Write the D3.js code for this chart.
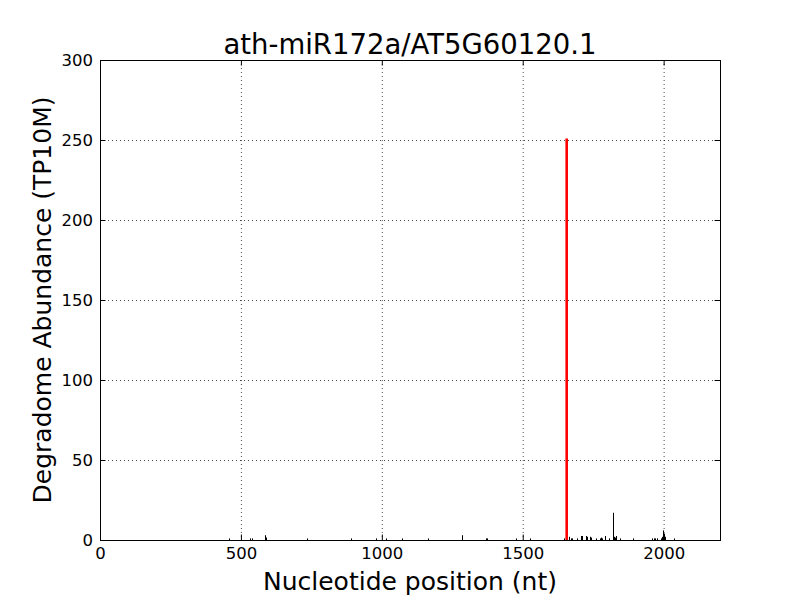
<!DOCTYPE html>
<html>
<head>
<meta charset="utf-8">
<script src="https://cdn.jsdelivr.net/npm/d3@7"></script>
<style>
  body { margin: 0; background: #fff; }
  svg { font-family: "DejaVu Sans", sans-serif; }
</style>
</head>
<body>
<div id="chart"></div>
<script>
// degradome reads along the transcript (position in nt, abundance in TP10M)
var readPos = [459, 532, 540, 584, 586, 588, 735, 891, 979, 1014, 1073, 1165, 1283, 1369, 1374,
  1475, 1526, 1648, 1664, 1672, 1676, 1692, 1706, 1709, 1724, 1727, 1737, 1741, 1760, 1773,
  1776, 1780, 1792, 1807, 1820, 1824, 1828, 1831, 1845, 1892, 1958, 1966, 1970, 1975, 1990,
  1994, 1997, 1999, 2001, 2004, 2038];
var readVal = [1, 1, 1, 1.5, 3, 1.5, 1, 1, 1, 1, 1, 1, 3, 1, 1,
  1, 1, 1, 2, 1, 1, 1, 2.5, 2.5, 2.5, 2, 2, 1.5, 1, 1,
  1.5, 1, 2.5, 1, 17, 2, 1.5, 2.5, 1, 1, 1, 1, 1, 1, 1,
  2, 3.5, 6, 4, 2, 1];
// predicted cleavage site
var sitePos = [1656];
var siteVal = [251];

var xTicks = [0, 500, 1000, 1500, 2000];
var yTicks = [0, 50, 100, 150, 200, 250, 300];

var chartTitle = "ath-miR172a/AT5G60120.1";
var xTitle = "Nucleotide position (nt)";
var yTitle = "Degradome Abundance (TP10M)";

//==================
var svgWidth = 800, svgHeight = 600;
var margin = {left: 100, right: 80, top: 60, bottom: 60};
var width = svgWidth - margin.left - margin.right;
var height = svgHeight - margin.top - margin.bottom;

var svg = d3.select("#chart")
  .append("svg")
  .attr("width", svgWidth)
  .attr("height", svgHeight);

svg.append("rect").attr("width", svgWidth).attr("height", svgHeight).attr("fill", "#fff");

var g = svg.append("g")
  .attr("transform", "translate(" + margin.left + "," + margin.top + ")");

var xScale = d3.scaleLinear().domain([0, 2200]).range([0, width]);
var yScale = d3.scaleLinear().domain([0, 300]).range([height, 0]);

//==================
// dotted grid
g.append("g")
  .attr("class", "grid")
  .call(d3.axisBottom(xScale).tickValues(xTicks).tickSize(height).tickFormat(""))
  .call(s => s.select(".domain").remove());
g.append("g")
  .attr("class", "grid")
  .call(d3.axisLeft(yScale).tickValues(yTicks).tickSize(-width).tickFormat(""))
  .call(s => s.select(".domain").remove());
g.selectAll(".grid line")
  .attr("stroke", "#000")
  .attr("stroke-width", 0.7)
  .attr("stroke-dasharray", "1,3");

//==================
// reads as thin vertical lines
var pts = readPos.map((p, i) => ({pos: p, val: readVal[i]}));
g.selectAll(".read")
  .data(pts)
  .enter()
  .append("line")
  .attr("class", "read")
  .attr("x1", d => Math.round(xScale(d.pos)) + 0.5)
  .attr("x2", d => Math.round(xScale(d.pos)) + 0.5)
  .attr("y1", yScale(0))
  .attr("y2", d => yScale(d.val))
  .attr("stroke", "#000")
  .attr("stroke-width", 1);

var site = sitePos.map((p, i) => ({pos: p, val: siteVal[i]}));
g.selectAll(".site")
  .data(site)
  .enter()
  .append("line")
  .attr("class", "site")
  .attr("x1", d => xScale(d.pos))
  .attr("x2", d => xScale(d.pos))
  .attr("y1", yScale(0))
  .attr("y2", d => yScale(d.val))
  .attr("stroke", "#ff0000")
  .attr("stroke-width", 2.6);

//==================
// axes, ticks pointing inward
var tickLen = 5.5;
var xAxis = d3.axisBottom(xScale).tickValues(xTicks).tickFormat(d3.format("d"))
  .tickSize(-tickLen).tickPadding(7);
var yAxis = d3.axisLeft(yScale).tickValues(yTicks).tickFormat(d3.format("d"))
  .tickSize(-tickLen).tickPadding(7);

g.append("g")
  .attr("class", "axis")
  .attr("transform", "translate(0," + height + ")")
  .call(xAxis);
g.append("g")
  .attr("class", "axis")
  .call(yAxis);
g.append("g")
  .attr("class", "axis")
  .call(d3.axisTop(xScale).tickValues(xTicks).tickSize(-tickLen).tickFormat(""));
g.append("g")
  .attr("class", "axis")
  .attr("transform", "translate(" + width + ",0)")
  .call(d3.axisRight(yScale).tickValues(yTicks).tickSize(-tickLen).tickFormat(""));

g.selectAll(".axis .domain").remove();
g.selectAll(".axis line").attr("stroke", "#000").attr("stroke-width", 1);
g.selectAll(".axis text")
  .attr("fill", "#000")
  .style("font-size", "16.5px")
  .style("font-family", "DejaVu Sans");

// frame
g.append("rect")
  .attr("x", 0.5)
  .attr("y", 0.5)
  .attr("width", width)
  .attr("height", height)
  .attr("fill", "none")
  .attr("stroke", "#000")
  .attr("stroke-width", 1);

//==================
// titles
svg.append("text")
  .attr("x", margin.left + width / 2)
  .attr("y", 54)
  .attr("text-anchor", "middle")
  .style("font-size", "27.5px")
  .text(chartTitle);

svg.append("text")
  .attr("x", margin.left + width / 2)
  .attr("y", 590)
  .attr("text-anchor", "middle")
  .style("font-size", "25px")
  .text(xTitle);

svg.append("text")
  .attr("transform", "translate(51," + (margin.top + height / 2) + ") rotate(-90)")
  .attr("text-anchor", "middle")
  .style("font-size", "25px")
  .text(yTitle);
</script>
</body>
</html>
